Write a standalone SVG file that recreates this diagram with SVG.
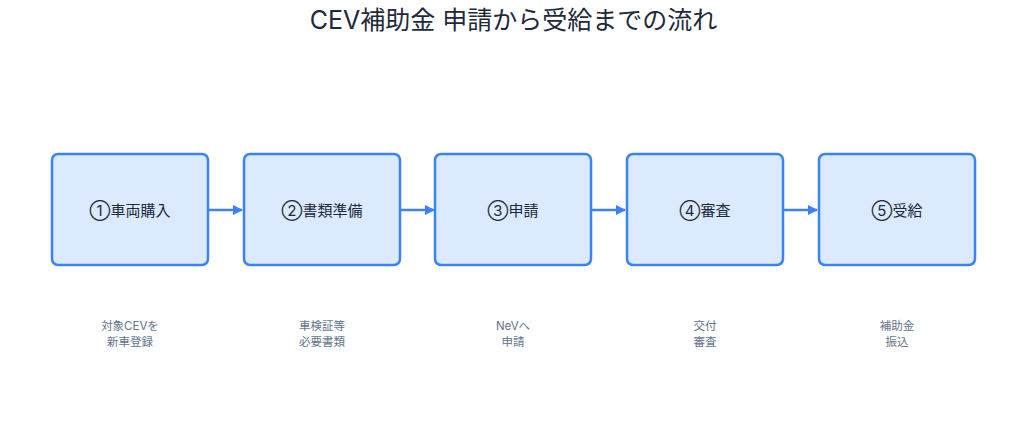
<svg xmlns="http://www.w3.org/2000/svg" width="1027" height="432" viewBox="0 0 1027 432">
<defs>
<style>
.box{fill:#dbeafe;stroke:#3b82f6;stroke-width:2.5}
.lbl{font-family:Inter,"Noto Sans CJK JP",sans-serif;font-size:15px;fill:#1e293b;text-anchor:middle;dominant-baseline:central}
.sub{font-family:Inter,"Noto Sans CJK JP",sans-serif;font-size:11.5px;fill:#64748b;text-anchor:middle}
.title{font-family:Inter,"Noto Sans CJK JP",sans-serif;font-size:25px;fill:#1e293b;text-anchor:middle}
.conn{stroke:#3b82f6;stroke-width:2.5;fill:none;marker-end:url(#ah)}
</style>
<marker id="ah" viewBox="0 0 10 10" refX="9" refY="5" markerWidth="4" markerHeight="4" orient="auto" markerUnits="strokeWidth">
<path d="M0,0 L10,5 L0,10 z" fill="#3b82f6"/>
</marker>
</defs>
<rect width="1027" height="432" fill="#ffffff"/>
<text class="title" x="513.5" y="29">CEV補助金 申請から受給までの流れ</text>
<g id="connectors">
<line class="conn" x1="209" y1="210" x2="242" y2="210"/>
<line class="conn" x1="401" y1="210" x2="434" y2="210"/>
<line class="conn" x1="592" y1="210" x2="625" y2="210"/>
<line class="conn" x1="784" y1="210" x2="817" y2="210"/>
</g>
<g id="n1"><rect class="box" x="52" y="154" width="156" height="111" rx="6"/><text class="lbl" x="130" y="210">①車両購入</text></g>
<g id="n2"><rect class="box" x="244" y="154" width="156" height="111" rx="6"/><text class="lbl" x="322" y="210">②書類準備</text></g>
<g id="n3"><rect class="box" x="435" y="154" width="156" height="111" rx="6"/><text class="lbl" x="513" y="210">③申請</text></g>
<g id="n4"><rect class="box" x="627" y="154" width="156" height="111" rx="6"/><text class="lbl" x="705" y="210">④審査</text></g>
<g id="n5"><rect class="box" x="819" y="154" width="156" height="111" rx="6"/><text class="lbl" x="897" y="210">⑤受給</text></g>
<g id="subs">
<text class="sub" x="130" y="330">対象CEVを</text><text class="sub" x="130" y="346">新車登録</text>
<text class="sub" x="322" y="330">車検証等</text><text class="sub" x="322" y="346">必要書類</text>
<text class="sub" x="513" y="330">NeVへ</text><text class="sub" x="513" y="346">申請</text>
<text class="sub" x="705" y="330">交付</text><text class="sub" x="705" y="346">審査</text>
<text class="sub" x="897" y="330">補助金</text><text class="sub" x="897" y="346">振込</text>
</g>
</svg>
